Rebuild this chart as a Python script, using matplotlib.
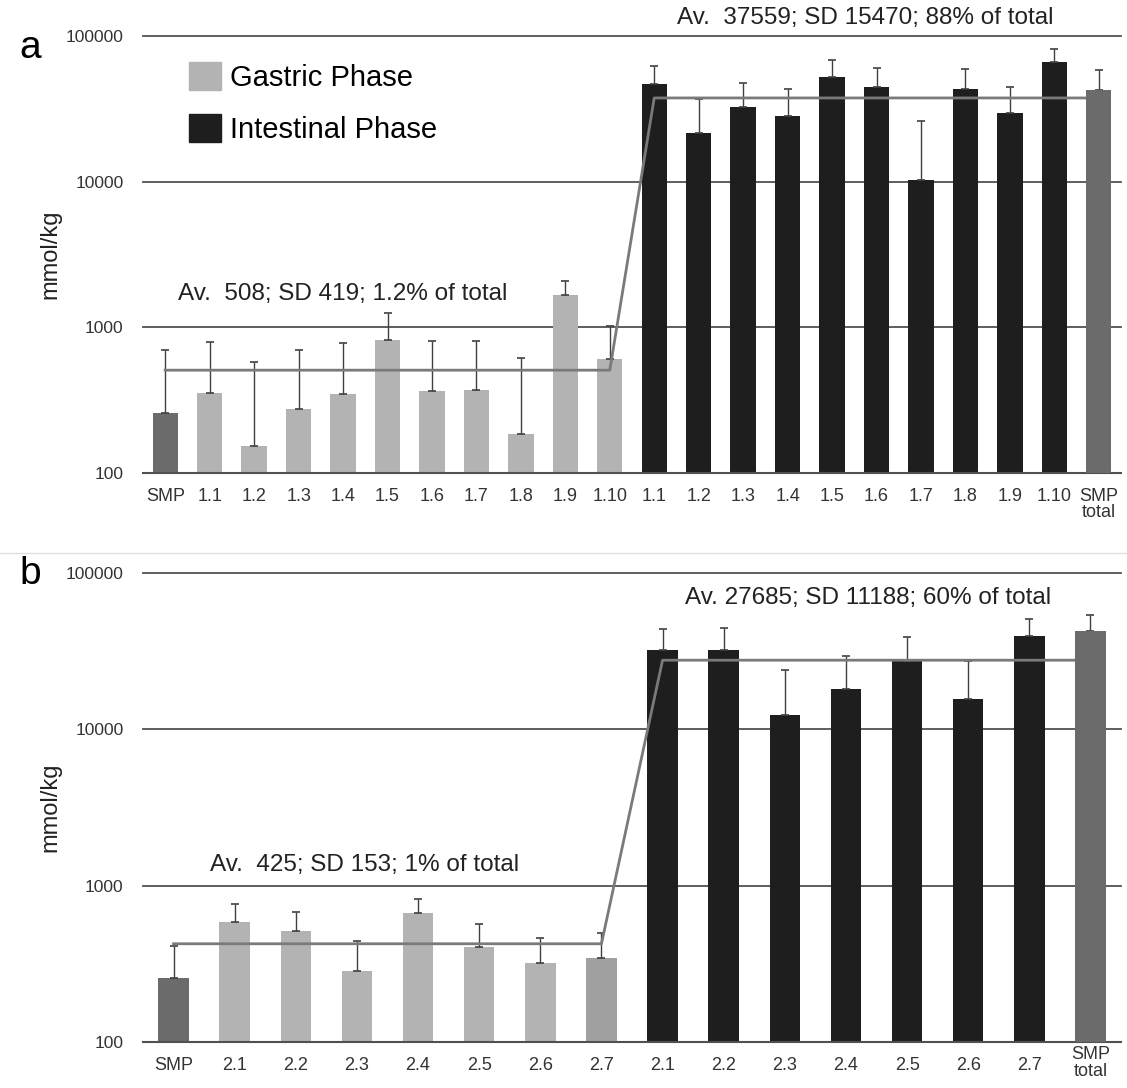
import numpy as np
import matplotlib
matplotlib.use('Agg')
import matplotlib.pyplot as plt
from matplotlib.lines import Line2D
from matplotlib.patches import Patch
from matplotlib.transforms import ScaledTranslation

plt.rcParams['font.family'] = ['Liberation Sans', 'DejaVu Sans']

# panel a
labels_a = ['SMP', '1.1', '1.2', '1.3', '1.4', '1.5', '1.6', '1.7', '1.8', '1.9', '1.10',
            '1.1', '1.2', '1.3', '1.4', '1.5', '1.6', '1.7', '1.8', '1.9', '1.10', 'SMP\ntotal']
gastric_a = [258, 355, 153, 275, 351, 817, 368, 374, 185, 1657, 604]
gastric_a_err = [697, 787, 578, 700, 775, 1250, 804, 804, 613, 2071, 1027]
intest_a = [46900, 21500, 32600, 28100, 52400, 44700, 10300, 43300, 29600, 66200, 42400]
intest_a_err = [62100, 37000, 47700, 43300, 68300, 60500, 25900, 58900, 44700, 80900, 58000]
avg_a = [508, 37559]

# panel b
labels_b = ['SMP', '2.1', '2.2', '2.3', '2.4', '2.5', '2.6', '2.7',
            '2.1', '2.2', '2.3', '2.4', '2.5', '2.6', '2.7', 'SMP\ntotal']
gastric_b = [257, 588, 512, 285, 665, 406, 318, 347]
gastric_b_err = [411, 759, 681, 442, 822, 568, 466, 500]
intest_b = [32200, 32200, 12400, 18200, 27300, 15600, 39600, 42600]
intest_b_err = [43700, 44300, 23900, 29400, 39200, 27300, 50900, 54000]
avg_b = [425, 27685]

text_a = ['Av.  508; SD 419; 1.2% of total', 'Av.  37559; SD 15470; 88% of total']
text_b = ['Av.  425; SD 153; 1% of total', 'Av. 27685; SD 11188; 60% of total']

LIGHT = '#b3b3b3'
DARK = '#1e1e1e'
SMPC = '#6b6b6b'

W, H = 1127, 1088
fig = plt.figure(figsize=(W / 100, H / 100), dpi=100)


def px_axes(x0, y0, x1, y1):
    return fig.add_axes([x0 / W, 1 - y1 / H, (x1 - x0) / W, (y1 - y0) / H])


def draw(ax, labels, gas, gas_err, intest, intest_err, avg, texts, width, colors_g, text_pos, tsize, xpad):
    vals = list(gas) + list(intest)
    errs = list(gas_err) + list(intest_err)
    n = len(vals)
    x = np.arange(n)
    ng = len(gas)
    colors = colors_g + [DARK] * (n - ng - 1) + [SMPC]
    for yv in [1000, 10000, 100000]:
        ax.axhline(yv, color='#505050', lw=1.3, zorder=1, clip_on=False)
    bars = ax.bar(x, vals, width=width, color=colors, zorder=2)
    bars[-1].set_zorder(5)
    upper = np.array(errs) - np.array(vals)
    ax.errorbar(x, vals, yerr=[np.zeros(n), upper], fmt='none', ecolor='#404040',
                elinewidth=1.0, capsize=3, capthick=1.2, zorder=3)
    # average line
    xl = list(range(0, ng)) + list(range(ng, n))
    yl = [avg[0]] * ng + [avg[1]] * (n - ng)
    ax.plot(xl, yl, color='#7a7a7a', lw=2.0, zorder=4)
    ax.set_yscale('log')
    ax.set_ylim(100, 100000)
    ax.set_xlim(-0.5, n - 0.5)
    ax.set_yticks([100, 1000, 10000, 100000])
    ax.set_yticklabels(['100', '1000', '10000', '100000'], fontsize=12.5)
    ax.minorticks_off()
    ax.set_xticks(x)
    ax.set_xticklabels(labels, fontsize=13, linespacing=0.95, va='top')
    ax.tick_params(axis='both', length=0, colors='#333333')
    ax.tick_params(axis='y', pad=14)
    ax.tick_params(axis='x', pad=xpad)
    for s in ['top', 'right', 'left']:
        ax.spines[s].set_visible(False)
    ax.spines['bottom'].set_color('#505050')
    ax.spines['bottom'].set_linewidth(1.5)
    ax.set_ylabel('mmol/kg', fontsize=17, color='#222222')
    ax.yaxis.set_label_coords(-0.083, 0.5)
    for t, (tx, ty) in zip(texts, text_pos):
        ax.text(tx, ty, t, fontsize=tsize, ha='center', va='center', color='#222222',
                transform=ax.transData, clip_on=False)


ax1 = px_axes(143, 36, 1121, 473)
draw(ax1, labels_a, gastric_a, gastric_a_err, intest_a, intest_a_err, avg_a, text_a,
     0.57, [SMPC] + [LIGHT] * 10, [(4.0, 1700), (15.75, 133000)], 17.5, 10.5)
ax1.legend(handles=[Patch(color=LIGHT, label='Gastric Phase'), Patch(color=DARK, label='Intestinal Phase')],
           loc='upper left', bbox_to_anchor=(0.047, 0.94), frameon=False, fontsize=21,
           borderpad=0, borderaxespad=0,
           handlelength=1.1, handleheight=1.1, handletextpad=0.3, labelspacing=0.75)

ax2 = px_axes(143, 573, 1121, 1042)
draw(ax2, labels_b, gastric_b, gastric_b_err, intest_b, intest_b_err, avg_b, text_b,
     0.5, [SMPC] + [LIGHT] * 6 + ['#a0a0a0'], [(3.12, 1357), (11.36, 69100)], 17.5, 11)
# the two-line label sits a little higher in panel b
last = ax2.get_xticklabels()[-1]
last.set_transform(last.get_transform() + ScaledTranslation(0, 8 / 72, fig.dpi_scale_trans))

fig.text(30 / W, 1 - 48 / H, 'a', fontsize=28, ha='center', va='center')
fig.text(30 / W, 1 - 574 / H, 'b', fontsize=28, ha='center', va='center')
fig.add_artist(Line2D([0, 1], [1 - 553 / H, 1 - 553 / H], color='#e0e0e0', lw=1.0))

fig.savefig('out.png', dpi=100)
